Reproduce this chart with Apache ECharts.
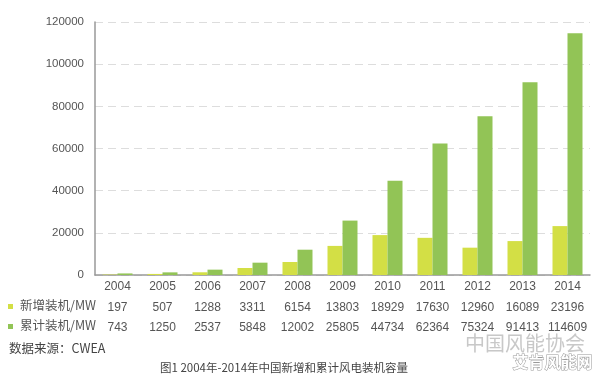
<!DOCTYPE html>
<html><head><meta charset="utf-8">
<script src="https://cdn.jsdelivr.net/npm/echarts@6/dist/echarts.min.js"></script>
<style>html,body{margin:0;padding:0;background:#fff}#c{width:600px;height:383px}</style>
</head><body><div id="c"></div>
<script>
const years = ['2004','2005','2006','2007','2008','2009','2010','2011','2012','2013','2014'];
const newCap = [197,507,1288,3311,6154,13803,18929,17630,12960,16089,23196];
const cumCap = [743,1250,2537,5848,12002,25805,44734,62364,75324,91413,114609];
const seriesNames = ['新增装机/MW','累计装机/MW'];
const yTicks = [0,20000,40000,60000,80000,100000,120000];
const colors = ['#d3df45','#92c456'];
const sourceText = '数据来源：CWEA';
const titleText = '图1 2004年-2014年中国新增和累计风电装机容量';

const chart = echarts.init(document.getElementById('c'));
const tableFont = {color:'#555', fontSize:12, fontFamily:'Liberation Sans, Arial, sans-serif'};
function rowAxis(arr, offset){
  return {type:'category', data: arr.map(String), position:'bottom', offset: offset, gridIndex:0,
    axisLine:{show:false}, axisTick:{show:false}, axisLabel:Object.assign({margin:6, interval:0}, tableFont)};
}
chart.setOption({
  animation:false,
  grid:{left:95, right:10, top:22, bottom:108},
  xAxis:[
    {type:'category', data: years, axisLine:{lineStyle:{color:'#999', width:1.5}}, axisTick:{show:false},
     axisLabel:Object.assign({margin:6, interval:0}, tableFont)},
    rowAxis(newCap, 21),
    rowAxis(cumCap, 41)
  ],
  yAxis:{type:'value', min:yTicks[0], max:yTicks[yTicks.length-1], interval:20000,
    axisLine:{show:true, lineStyle:{color:'#999', width:1.5}}, axisTick:{show:false},
    axisLabel:{margin:11, color:'#555', fontSize:11.5, fontFamily:'Liberation Sans, Arial, sans-serif',
      formatter:v=>String(v)},
    splitLine:{lineStyle:{color:'#ddd', type:[8,5]}}},
  series:[
    {name:seriesNames[0], type:'bar', data:newCap, barWidth:15, barGap:'0%', itemStyle:{color:colors[0]}},
    {name:seriesNames[1], type:'bar', data:cumCap, barWidth:15, barGap:'0%', itemStyle:{color:colors[1]}}
  ],
  graphic:[
    {type:'rect', left:8, top:304, shape:{width:5, height:5}, style:{fill:colors[0]}},
    {type:'text', left:20, top:299, style:{text:seriesNames[0], fill:'#555', font:'12.5px "Noto Sans CJK SC", sans-serif'}},
    {type:'rect', left:8, top:324, shape:{width:5, height:5}, style:{fill:colors[1]}},
    {type:'text', left:20, top:319, style:{text:seriesNames[1], fill:'#555', font:'12.5px "Noto Sans CJK SC", sans-serif'}},
    {type:'text', left:9, top:342, style:{text:sourceText, fill:'#444', font:'12.5px "Noto Sans CJK SC", sans-serif'}},
    {type:'text', left:160, top:362, style:{text:titleText, fill:'#444', font:'11.5px "Noto Sans CJK SC", sans-serif'}},
    {type:'text', left:465, top:333, style:{text:'中国风能协会', fill:'#c8c8c8', font:'20px "Noto Sans CJK SC", sans-serif'}},
    {type:'text', left:512, top:353, style:{text:'艾肯风能网', fill:'#fff', stroke:'#999', lineWidth:1, font:'bold 16px "Noto Sans CJK SC", sans-serif'}}
  ]
});
</script></body></html>
